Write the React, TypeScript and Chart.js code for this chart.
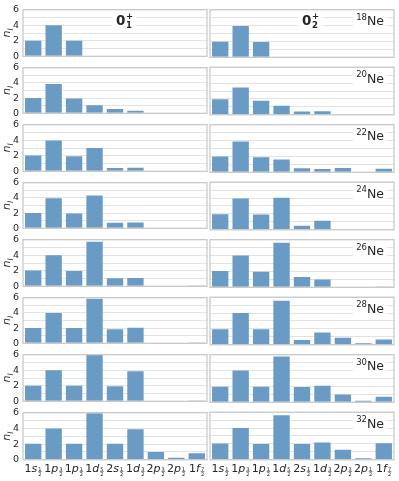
import React, { useEffect, useRef } from 'react';
import { Chart, registerables } from 'chart.js';
Chart.register(...registerables);

// Orbitals (categories): principal number, orbital letter, 2j numerator
const shellN = ['1', '1', '1', '1', '2', '1', '2', '2', '1'];
const shellL = ['s', 'p', 'p', 'd', 's', 'd', 'p', 'p', 'f'];
const shellJ = ['1', '3', '1', '5', '1', '3', '3', '1', '7'];
const categories = shellN.map((n, i) => `${n}${shellL[i]}${shellJ[i]}/2`);
const massNumbers = ['18', '20', '22', '24', '26', '28', '30', '32'];
const yTickLabels = [0, 2, 4, 6];

// 0_1^+ occupations
const g18 = [2.0, 4.0, 2.0, 0, 0, 0, 0, 0, 0];
const g20 = [2.0, 3.85, 1.95, 1.05, 0.55, 0.35, 0, 0, 0];
const g22 = [2.05, 3.95, 1.95, 3.0, 0.42, 0.46, 0, 0, 0];
const g24 = [2.0, 3.95, 1.95, 4.3, 0.72, 0.76, 0, 0, 0];
const g26 = [2.05, 4.0, 1.97, 5.75, 1.05, 1.08, 0, 0, 0.05];
const g28 = [2.0, 4.0, 2.0, 5.85, 1.85, 2.05, 0, 0, 0.02];
const g30 = [2.0, 4.0, 2.0, 5.95, 1.95, 3.87, 0, 0, 0.05];
const g32 = [2.05, 4.0, 2.05, 5.92, 2.05, 3.9, 1.0, 0.25, 0.85];

// 0_2^+ occupations
const e18 = [1.97, 3.95, 1.93, 0, 0, 0, 0, 0, 0];
const e20 = [1.97, 3.45, 1.76, 1.15, 0.42, 0.45, 0.08, 0, 0.1];
const e22 = [2.0, 3.87, 1.9, 1.6, 0.5, 0.42, 0.55, 0.08, 0.46];
const e24 = [1.97, 3.95, 1.93, 4.03, 0.5, 1.13, 0, 0, 0];
const e26 = [2.05, 4.0, 1.97, 5.6, 1.3, 0.97, 0, 0, 0.03];
const e28 = [1.97, 4.0, 1.97, 5.55, 0.59, 1.55, 0.88, 0.21, 0.67];
const e30 = [1.97, 4.0, 1.97, 5.76, 1.93, 2.1, 0.97, 0.21, 0.71];
const e32 = [2.05, 4.0, 2.0, 5.63, 2.0, 2.18, 1.26, 0.2, 2.1];

const groundRows = [g18, g20, g22, g24, g26, g28, g30, g32];
const excitedRows = [e18, e20, e22, e24, e26, e28, e30, e32];
const stateSubs = ['1', '2'];

const FONT = "'DejaVu Sans', sans-serif";
const BAR = '#6a9bc4';
const GRID = '#e2e2e2';
const FRAME = '#c8c8c8';
const TEXT = '#262626';

const ROW0 = 9.7;
const PITCH = 57.5;
const PLOT_H = 47.6;
const COLS = [
  { canvasLeft: 0, canvasW: 208, plotLeft: 23, plotRight: 207 },
  { canvasLeft: 209, canvasW: 190, plotLeft: 210, plotRight: 394 },
];

type Seg = { t: string; font: string; dx?: number; dy: number; adv?: boolean };

function drawSegs(ctx: CanvasRenderingContext2D, segs: Seg[], x: number, y: number) {
  let cx = x;
  for (const s of segs) {
    ctx.font = s.font;
    const w = ctx.measureText(s.t).width;
    ctx.fillText(s.t, cx + (s.dx || 0), y + s.dy);
    if (s.adv !== false) cx += w + (s.dx || 0);
  }
}

function measureSegs(ctx: CanvasRenderingContext2D, segs: Seg[]) {
  let cx = 0;
  let maxX = 0;
  for (const s of segs) {
    ctx.font = s.font;
    const w = ctx.measureText(s.t).width;
    maxX = Math.max(maxX, cx + (s.dx || 0) + w);
    if (s.adv !== false) cx += w + (s.dx || 0);
  }
  return maxX;
}

function Panel({ row, col, values }: { row: number; col: number; values: number[] }) {
  const ref = useRef<HTMLCanvasElement>(null);
  const last = row === 7;
  const top = ROW0 + PITCH * row;
  const cTop = Math.floor(top) - 9;
  const padTop = top - cTop;
  const bottomSpace = last ? 22 : 8;
  const cH = Math.ceil(padTop + PLOT_H + bottomSpace);
  const xAxisH = cH - padTop - PLOT_H;
  const c = COLS[col];

  useEffect(() => {
    const decor = {
      id: 'decor',
      afterDraw(chart: any) {
        const ctx: CanvasRenderingContext2D = chart.ctx;
        const ca = chart.chartArea;
        ctx.save();
        // frame
        ctx.strokeStyle = FRAME;
        ctx.lineWidth = 1.25;
        ctx.strokeRect(ca.left, ca.top, ca.right - ca.left, ca.bottom - ca.top);
        ctx.fillStyle = TEXT;
        ctx.textBaseline = 'alphabetic';
        ctx.textAlign = 'left';
        const base = ca.top + 15.5;
        // isotope label on right column
        if (col === 1) {
          const segs: Seg[] = [
            { t: massNumbers[row], font: `8.5px ${FONT}`, dy: -5.5 },
            { t: 'Ne', font: `12.5px ${FONT}`, dy: 0 },
          ];
          const w = measureSegs(ctx, segs);
          const x0 = 384 - c.canvasLeft - w;
          ctx.fillStyle = '#ffffff';
          ctx.fillRect(x0 - 3, base - 13, w + 6, 16.5);
          ctx.fillStyle = TEXT;
          drawSegs(ctx, segs, x0, base);
        }
        // state label on first row
        if (row === 0) {
          const segs: Seg[] = [
            { t: '0', font: `bold 13.5px ${FONT}`, dy: 0 },
            { t: stateSubs[col], font: `bold 8.5px ${FONT}`, dx: 0.5, dy: 3, adv: false },
            { t: '+', font: `bold 8.5px ${FONT}`, dx: 0.5, dy: -6.5 },
          ];
          const w = measureSegs(ctx, segs);
          const x0 = (col === 0 ? 116 : 302) - c.canvasLeft;
          ctx.fillStyle = '#ffffff';
          ctx.fillRect(x0 - 4, base - 13, w + 8, 18);
          ctx.fillStyle = TEXT;
          drawSegs(ctx, segs, x0, base);
        }
        // y title
        if (col === 0) {
          const segs: Seg[] = [
            { t: 'n', font: `italic 11px ${FONT}`, dy: 0 },
            { t: 'l', font: `italic 7.5px ${FONT}`, dy: 2.5 },
          ];
          const w = measureSegs(ctx, segs);
          ctx.translate(10, (ca.top + ca.bottom) / 2);
          ctx.rotate(-Math.PI / 2);
          drawSegs(ctx, segs, -w / 2, 0);
          ctx.setTransform(1, 0, 0, 1, 0, 0);
        }
        // x labels on last row
        if (last) {
          const xs = chart.scales.x;
          const by = 472 - cTop;
          categories.forEach((_, i) => {
            const cx = xs.getPixelForValue(i);
            ctx.font = `11px ${FONT}`;
            const wN = ctx.measureText(shellN[i]).width;
            ctx.font = `italic 11px ${FONT}`;
            const wL = ctx.measureText(shellL[i]).width;
            ctx.font = `5px ${FONT}`;
            const wF = Math.max(ctx.measureText(shellJ[i]).width, ctx.measureText('2').width) + 0.5;
            const total = wN + wL + wF + 1;
            let x = cx - total / 2;
            ctx.fillStyle = TEXT;
            ctx.font = `11px ${FONT}`;
            ctx.fillText(shellN[i], x, by);
            x += wN;
            ctx.font = `italic 11px ${FONT}`;
            ctx.fillText(shellL[i], x, by);
            x += wL + 0.8;
            ctx.font = `5px ${FONT}`;
            ctx.textAlign = 'center';
            ctx.fillText(shellJ[i], x + wF / 2, by - 1.5);
            ctx.fillText('2', x + wF / 2, by + 3.5);
            ctx.fillRect(x, by - 0.9, wF, 0.5);
            ctx.textAlign = 'left';
          });
        }
        ctx.restore();
      },
    };

    const chart = new Chart(ref.current as HTMLCanvasElement, {
      type: 'bar',
      data: {
        labels: categories,
        datasets: [
          {
            data: values,
            backgroundColor: BAR,
            borderWidth: 0,
            barPercentage: 0.8,
            categoryPercentage: 1,
          },
        ],
      },
      options: {
        animation: false,
        responsive: false,
        maintainAspectRatio: false,
        devicePixelRatio: 1,
        layout: {
          padding: { top: padTop, left: 0, right: c.canvasLeft + c.canvasW - c.plotRight, bottom: 0 },
        },
        plugins: { legend: { display: false }, tooltip: { enabled: false } },
        scales: {
          x: {
            grid: { display: false, drawTicks: false },
            border: { display: false },
            ticks: { display: false },
            afterFit: (s: any) => {
              s.height = xAxisH;
            },
          },
          y: {
            min: 0,
            max: 6,
            grid: { color: GRID, lineWidth: 1, drawTicks: false },
            border: { display: false },
            ticks: {
              display: col === 0,
              stepSize: 1,
              autoSkip: false,
              padding: 4,
              color: TEXT,
              font: { family: FONT, size: 9.5 },
              callback: (v: any) => (yTickLabels.includes(Number(v)) ? String(v) : ''),
            },
            afterFit: (s: any) => {
              s.width = c.plotLeft - c.canvasLeft;
            },
          },
        },
      } as any,
      plugins: [decor],
    });
    return () => chart.destroy();
  }, []);

  return (
    <canvas
      ref={ref}
      width={c.canvasW}
      height={cH}
      style={{ position: 'absolute', left: c.canvasLeft, top: cTop, width: c.canvasW, height: cH }}
    />
  );
}

export default function App() {
  return (
    <div style={{ position: 'absolute', left: 0, top: 0, width: 399, height: 481, background: '#fff' }}>
      {groundRows.map((vals, r) => (
        <Panel key={`g${r}`} row={r} col={0} values={vals} />
      ))}
      {excitedRows.map((vals, r) => (
        <Panel key={`e${r}`} row={r} col={1} values={vals} />
      ))}
    </div>
  );
}
